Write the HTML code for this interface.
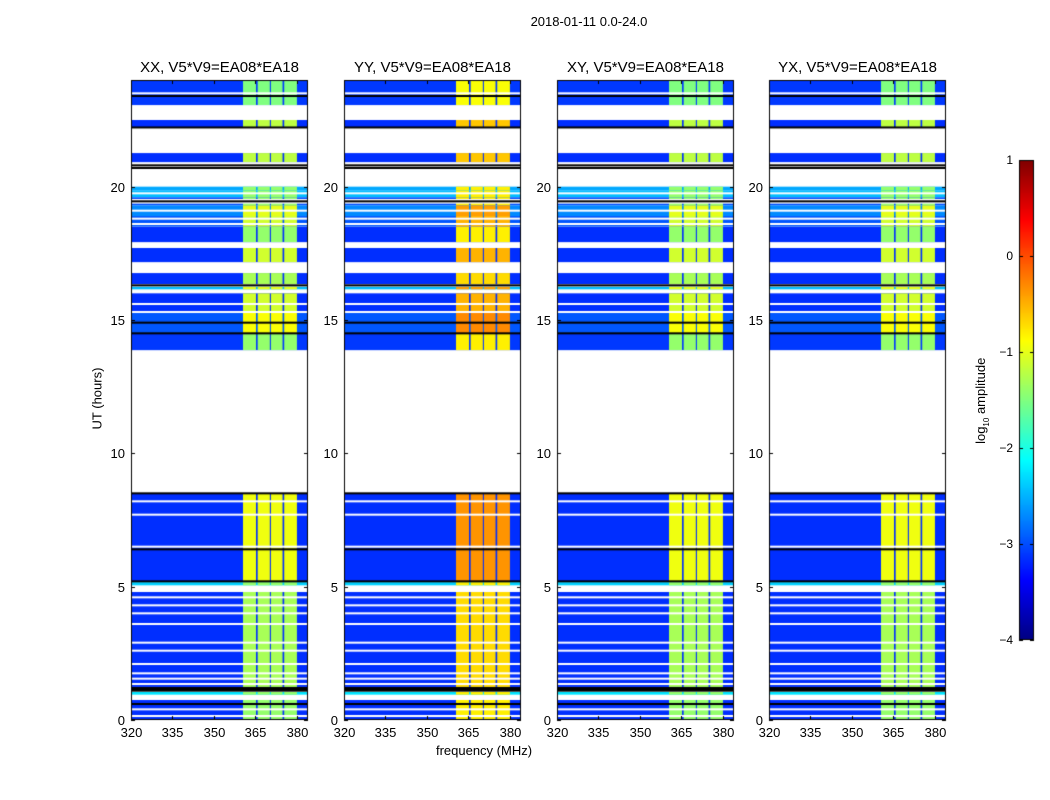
<!DOCTYPE html>
<html><head><meta charset="utf-8">
<style>
body{margin:0;background:#fff;width:1050px;height:800px;overflow:hidden;font-family:"Liberation Sans",sans-serif}
#root{position:relative;width:1050px;height:800px}
canvas{position:absolute}
.t{position:absolute;font-size:13px;color:#000;white-space:nowrap}
</style></head>
<body><div id="root">
<canvas id="cv" width="1050" height="800"></canvas>
</div>
<script>
// ---- data ----
const panelTitles=["XX, V5*V9=EA08*EA18","YY, V5*V9=EA08*EA18","XY, V5*V9=EA08*EA18","YX, V5*V9=EA08*EA18"];
const panelBandLevel=[-1.4,-0.8,-1.4,-1.4];
const baseLevel=-3.15;
const bandStart=[360.5,365.8,370.6,375.4];
const bandEnd=[365.2,370.2,374.8,380.0];
const segStart=[23.06,22.2,20.92,19.85,19.6,19.3,18.9,18.5,17.92,17.17,16.35,16.15,15.3,14.5,13.87,5.17,5.05,1.24,0.95,0];
const segEnd=[24,22.5,21.26,20.0,19.85,19.6,19.3,18.9,18.49,17.7,16.76,16.25,16.0,15.3,14.5,8.5,5.17,4.8,1.05,0.75];
const segOffset=[0.05,0,0,0.6,0.7,0.15,0.45,0.2,0,0,0,0.7,0,0.2,0.05,0,0.8,0,0.9,0];
const segBandBoost=[-0.1,0.2,0.2,0,0,0,0.4,0.3,0,0.3,0.1,0.4,0.3,0.5,0,0.45,0,0.1,0,0];
const whiteLines=[23.5,19.75,19.5,19.4,19.1,18.8,18.6,16.3,15.6,15.3,8.2,7.7,6.5,4.6,4.3,4.0,3.6,2.9,2.6,2.1,1.75,1.55,1.35,0.4,0.15];
const blackLines=[23.4,22.22,20.8,20.7,19.45,16.3,14.9,14.5,8.5,6.4,5.2,1.15,1.1,1.2,0.6];
const xTicks=[320,335,350,365,380];
const yTicks=[0,5,10,15,20];
const cbTicks=[1,0,-1,-2,-3,-4];
</script>
<script>
const cv=document.getElementById('cv'),ctx=cv.getContext('2d');
const panelX=[131,344,557,769],PW=177,PT=80,PB=720;
const fMin=320,fMax=384,tMin=0,tMax=24;
function jet(v){let t=(v+4)/5;t=Math.max(0,Math.min(1,t));
 const c=x=>Math.round(255*Math.max(0,Math.min(1,1.5-Math.abs(4*t-x))));
 return `rgb(${c(3)},${c(2)},${c(1)})`;}
const root=document.getElementById('root');
function label(txt,x,y,opts){const d=document.createElement('div');d.className='t';d.textContent=txt;
 d.style.left=x+'px';d.style.top=y+'px';if(opts)Object.assign(d.style,opts);root.appendChild(d);return d;}
panelX.forEach((px,p)=>{
 const sx=f=>px+(f-fMin)/(fMax-fMin)*PW;
 const sy=h=>PB-(h-tMin)/(tMax-tMin)*(PB-PT);
 for(let s=0;s<segStart.length;s++){
  const y0=sy(segEnd[s]),y1=sy(segStart[s]);
  ctx.fillStyle=jet(baseLevel+segOffset[s]);ctx.fillRect(px,y0,PW,y1-y0);
  for(let b=0;b<bandStart.length;b++){
   ctx.fillStyle=jet(Math.max(panelBandLevel[p]+segBandBoost[s],baseLevel+segOffset[s]));
   ctx.fillRect(sx(bandStart[b]),y0,sx(bandEnd[b])-sx(bandStart[b]),y1-y0);
  }
 }
 whiteLines.forEach(h=>{ctx.fillStyle='#fff';ctx.fillRect(px,sy(h)-1,PW,2);});
 blackLines.forEach(h=>{ctx.fillStyle='#000';ctx.fillRect(px,sy(h)-1,PW,2);});
 ctx.strokeStyle='#000';ctx.lineWidth=1;ctx.strokeRect(px+0.5,PT+0.5,PW-1,PB-PT-1);
 xTicks.forEach(f=>{const x=Math.round(sx(f))+0.5;ctx.beginPath();ctx.moveTo(x,PB);ctx.lineTo(x,PB-4);ctx.moveTo(x,PT);ctx.lineTo(x,PT+4);ctx.stroke();
  const l=label(String(f),x-12,PB+5,{width:'24px',textAlign:'center'});
  });
 yTicks.forEach(h=>{const y=Math.round(sy(h))+0.5;ctx.beginPath();ctx.moveTo(px,y);ctx.lineTo(px+4,y);ctx.moveTo(px+PW,y);ctx.lineTo(px+PW-4,y);ctx.stroke();
  const l=label(String(h),px-34,y-8,{width:'28px',textAlign:'right'});
  });
 const t=label(panelTitles[p],px-20,59,{width:(PW+40)+'px',textAlign:'center',fontSize:'15px'});
 
});
// colorbar
const cbX=1019,cbW=15,cbT=160,cbB=640;
for(let y=cbT;y<cbB;y++){ctx.fillStyle=jet(1-(y-cbT)/(cbB-cbT)*5);ctx.fillRect(cbX,y,cbW,1);}
ctx.strokeStyle='#000';ctx.strokeRect(cbX+0.5,cbT+0.5,cbW-1,cbB-cbT-1);
cbTicks.forEach(v=>{const y=Math.round(cbT+(1-v)/5*(cbB-cbT))+0.5;ctx.beginPath();ctx.moveTo(cbX,y);ctx.lineTo(cbX+4,y);ctx.moveTo(cbX+cbW,y);ctx.lineTo(cbX+cbW-4,y);ctx.stroke();
 const l=label(v<0?'\u2212'+(-v):String(v),cbX-38,y-8,{width:'32px',textAlign:'right',fontSize:'12px'});
 });
</script>
<div class="t" style="left:489px;top:14px;width:200px;text-align:center">2018-01-11 0.0-24.0</div>
<div class="t" style="left:384px;top:743px;width:200px;text-align:center">frequency (MHz)</div>
<div class="t" style="left:47px;top:391px;width:100px;text-align:center;transform:rotate(-90deg)">UT (hours)</div>
<div class="t" style="left:932px;top:392px;width:100px;text-align:center;transform:rotate(-90deg)">log<sub style="font-size:8px">10</sub> amplitude</div>
</body></html>
